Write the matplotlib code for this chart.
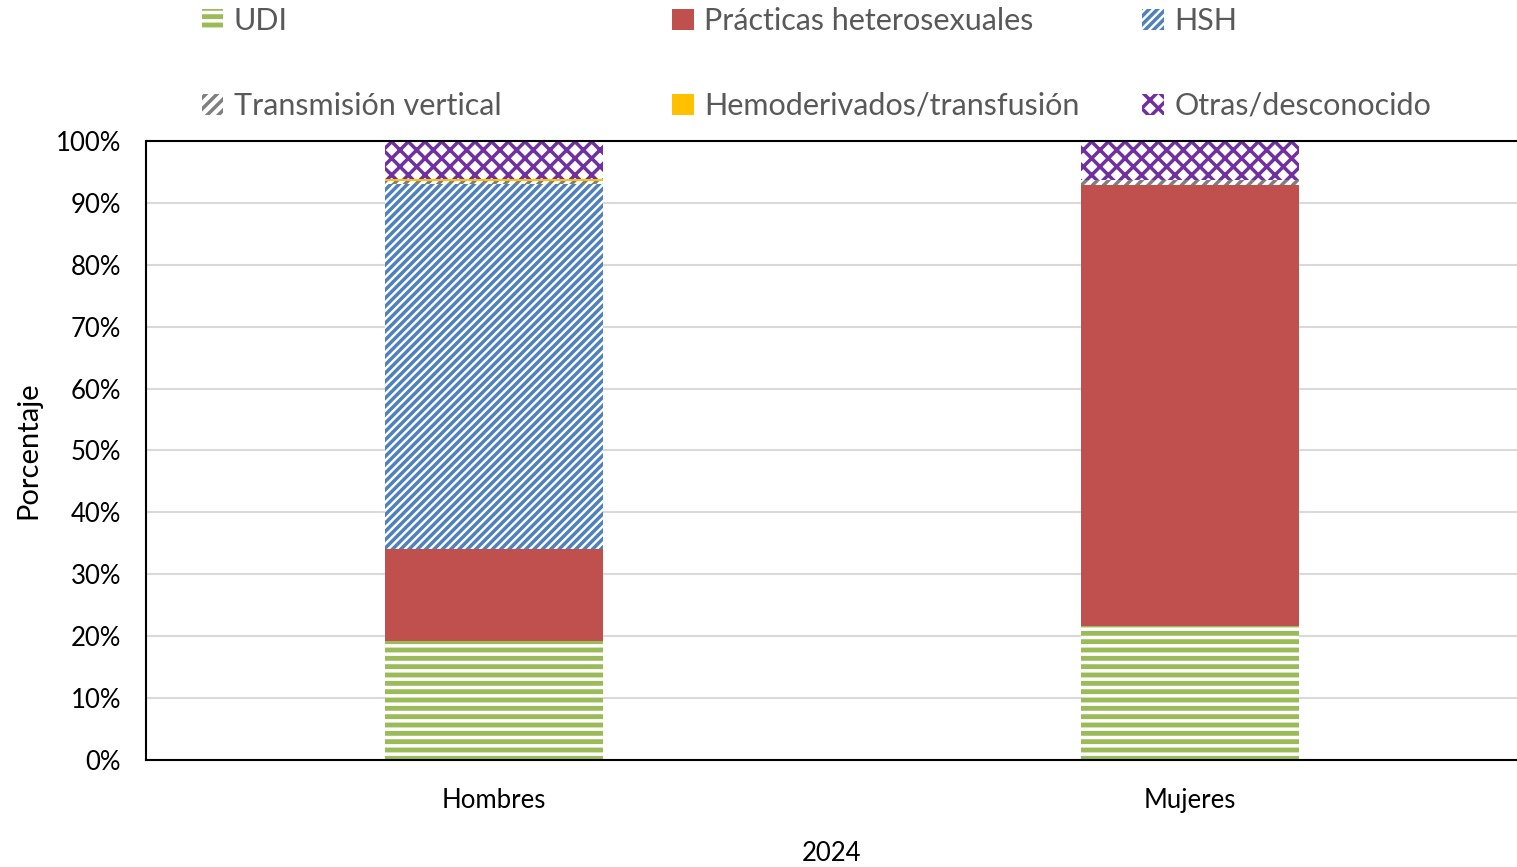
import numpy as np
import matplotlib.pyplot as plt
from matplotlib.patches import Patch

plt.rcParams['font.family'] = ['Lato', 'DejaVu Sans']
plt.rcParams['hatch.linewidth'] = 2.5

grupos = ["Hombres", "Mujeres"]
udi = [19.2, 21.6]
hetero = [14.9, 71.3]
hsh = [58.9, 0.0]
vertical = [0.5, 0.8]
hemo = [0.4, 0.0]
otras = [6.1, 6.3]

series = [
    ("UDI", udi, dict(facecolor="#9BBB59", edgecolor="white", hatch="--")),
    ("Prácticas heterosexuales", hetero, dict(facecolor="#C0504D", edgecolor="#C0504D")),
    ("HSH", hsh, dict(facecolor="white", edgecolor="#4F81BD", hatch="////")),
    ("Transmisión vertical", vertical, dict(facecolor="white", edgecolor="#7F7F7F", hatch="///")),
    ("Hemoderivados/transfusión", hemo, dict(facecolor="#FFC000", edgecolor="#FFC000")),
    ("Otras/desconocido", otras, dict(facecolor="white", edgecolor="#7030A0", hatch="xx")),
]

fig = plt.figure(figsize=(15.17, 8.67), dpi=100)
ax = fig.add_axes([0.0962, 0.1234, 0.9038, 0.714])

x = np.arange(len(grupos))
bottom = np.zeros(len(grupos))
handles = []
for name, vals, style in series:
    vals = np.array(vals)
    ax.bar(x, vals, 0.313, bottom=bottom, linewidth=0, **style)
    bottom += vals
    handles.append(Patch(label=name, linewidth=0, **style))

ax.set_ylim(0, 100)
ax.set_xlim(-0.5, 1.47)
ax.set_yticks(np.arange(0, 101, 10))
ax.set_yticklabels([f"{v}%" for v in range(0, 101, 10)])
ax.set_xticks(x)
ax.set_xticklabels(grupos)
ax.tick_params(axis='both', length=0, labelsize=18.5, colors="#000000")
ax.tick_params(axis='x', pad=20)
ax.tick_params(axis='y', pad=18)
ax.yaxis.grid(True, color="#D9D9D9", linewidth=1.5)
ax.set_axisbelow(True)
for s in ["left", "top", "bottom"]:
    ax.spines[s].set_linewidth(1.5)
    ax.spines[s].set_color("black")
ax.spines["right"].set_visible(False)
ax.set_ylabel("Porcentaje", fontsize=21, labelpad=10)
ax.set_xlabel("2024", fontsize=18.5, labelpad=20)

# legend: three columns placed separately
xs = [0.125, 0.435, 0.745]
for i, xpos in enumerate(xs):
    leg = fig.legend(handles=[handles[i], handles[i + 3]], loc="upper left",
                     bbox_to_anchor=(xpos, 1.0055), frameon=False, fontsize=22,
                     handlelength=0.7, handleheight=0.7, handletextpad=0.35,
                     labelspacing=1.85, borderaxespad=0)
    for t in leg.get_texts():
        t.set_color("#595959")

fig.savefig("out.png", dpi=100)
